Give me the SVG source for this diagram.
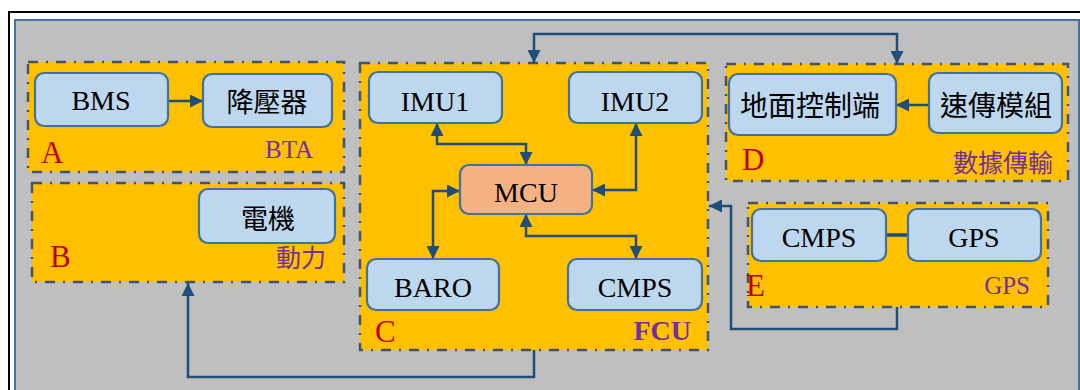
<svg xmlns="http://www.w3.org/2000/svg" width="1080" height="390" viewBox="0 0 1080 390">
<defs>
<style>
.grp{fill:#FFC000;stroke:#44546A;stroke-width:2.5;stroke-dasharray:10 8 2 8}
.box{fill:#BDD7EE;stroke:#41719C;stroke-width:2.2}
.mcu{fill:#F4B183;stroke:#41719C;stroke-width:2.2}
.lbl{font-family:"Liberation Serif","Noto Sans CJK TC",serif;font-size:28px;fill:#000;text-anchor:middle}
.cjk{font-family:"Noto Sans CJK TC","Liberation Serif",sans-serif;font-size:27px;fill:#000;text-anchor:middle}
.red{font-family:"Liberation Serif",serif;font-size:31px;fill:#C00000}
.pur{font-family:"Liberation Serif","Noto Sans CJK TC",serif;font-size:25px;fill:#7030A0;text-anchor:end}
.purc{font-family:"Noto Sans CJK TC",sans-serif;font-size:25px;fill:#7030A0;text-anchor:end}
.con{fill:none;stroke:#1F4E79;stroke-width:2.5}
</style>
<marker id="ah" viewBox="0 0 12 12" refX="12" refY="6" markerWidth="13" markerHeight="13" markerUnits="userSpaceOnUse" orient="auto-start-reverse">
<path d="M0,0 L12,6 L0,12 z" fill="#1F4E79"/>
</marker>
</defs>
<rect x="0" y="0" width="1080" height="390" fill="#FFFFFF"/>
<rect x="9" y="12" width="1100" height="420" fill="#FFFFFF" stroke="#000000" stroke-width="2"/>
<rect x="15" y="20" width="1064" height="420" fill="#BFBFBF" stroke="#41719C" stroke-width="2"/>

<g id="groupA">
<rect class="grp" x="28" y="62" width="316" height="110"/>
<text class="red" x="41" y="163">A</text>
<text class="pur" x="313" y="158">BTA</text>
</g>
<g id="groupB">
<rect class="grp" x="32" y="183" width="312" height="99"/>
<text class="red" x="50" y="267">B</text>
<text class="purc" x="326" y="267">動力</text>
</g>
<g id="groupC">
<rect class="grp" x="360" y="63" width="348" height="287"/>
<text class="red" x="375" y="342">C</text>
<text class="pur" x="691" y="340" style="font-weight:bold;font-size:28px">FCU</text>
</g>
<g id="groupD">
<rect class="grp" x="726" y="64" width="342" height="117"/>
<text class="red" x="742" y="170">D</text>
<text class="purc" x="1053" y="172">數據傳輸</text>
</g>
<g id="groupE">
<rect class="grp" x="748" y="203" width="300" height="104"/>
<text class="red" x="746" y="296">E</text>
<text class="pur" x="1030" y="294">GPS</text>
</g>

<g id="connectors">
<path class="con" d="M168,101 H203" marker-end="url(#ah)"/>
<path class="con" d="M929,105 H896" marker-end="url(#ah)"/>
<path class="con" d="M534,63 V34 H897 V64" marker-start="url(#ah)" marker-end="url(#ah)"/>
<path class="con" d="M437,123 V144 H526 V165" marker-start="url(#ah)" marker-end="url(#ah)"/>
<path class="con" d="M636,123 V190 H592" marker-start="url(#ah)" marker-end="url(#ah)"/>
<path class="con" d="M460,191 H433 V259" marker-start="url(#ah)" marker-end="url(#ah)"/>
<path class="con" d="M526,214 V236 H636 V259" marker-start="url(#ah)" marker-end="url(#ah)"/>
<path class="con" d="M886,235 H908" style="stroke-width:3.5"/>
<path class="con" d="M897,307 V329 H731 V206 H709" marker-end="url(#ah)"/>
<path class="con" d="M534,350 V377 H188 V283" marker-end="url(#ah)"/>
</g>

<g id="BMS"><rect class="box" x="35" y="73" width="133" height="53" rx="9"/><text class="lbl" x="101" y="110">BMS</text></g>
<g id="jiangyaqi"><rect class="box" x="203" y="74" width="129" height="53" rx="9"/><text class="cjk" x="267" y="112">降壓器</text></g>
<g id="dianji"><rect class="box" x="199" y="189" width="136" height="54" rx="9"/><text class="cjk" x="268" y="229">電機</text></g>
<g id="IMU1"><rect class="box" x="369" y="72" width="133" height="51" rx="9"/><text class="lbl" x="435" y="111">IMU1</text></g>
<g id="IMU2"><rect class="box" x="569" y="72" width="133" height="51" rx="9"/><text class="lbl" x="635" y="111">IMU2</text></g>
<g id="MCU"><rect class="mcu" x="460" y="165" width="132" height="49" rx="9"/><text class="lbl" x="526" y="202">MCU</text></g>
<g id="BARO"><rect class="box" x="367" y="259" width="132" height="51" rx="9"/><text class="lbl" x="433" y="297">BARO</text></g>
<g id="CMPS_C"><rect class="box" x="568" y="259" width="134" height="51" rx="9"/><text class="lbl" x="635" y="297">CMPS</text></g>
<g id="ground"><rect class="box" x="729" y="74" width="167" height="61" rx="9"/><text class="cjk" x="810" y="116" style="font-size:28px">地面控制端</text></g>
<g id="telemetry"><rect class="box" x="929" y="73" width="133" height="60" rx="9"/><text class="cjk" x="996" y="116" style="font-size:28px">速傳模組</text></g>
<g id="CMPS_E"><rect class="box" x="752" y="209" width="134" height="52" rx="9"/><text class="lbl" x="819" y="247">CMPS</text></g>
<g id="GPS"><rect class="box" x="908" y="209" width="133" height="52" rx="9"/><text class="lbl" x="974" y="247">GPS</text></g>
</svg>
